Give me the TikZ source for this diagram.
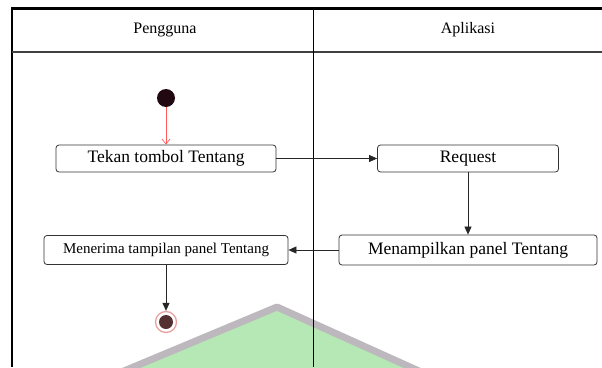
\documentclass[tikz,border=0pt]{standalone}
\usepackage{fontspec}
\setmainfont{Liberation Serif}
\usetikzlibrary{arrows.meta}
\definecolor{startc}{HTML}{220810}
\definecolor{endc}{HTML}{553033}
\definecolor{ringc}{HTML}{E8A0A0}
\definecolor{wmgreen}{HTML}{B5E8B5}
\definecolor{wmgray}{HTML}{BDB8BD}
\begin{document}
\begin{tikzpicture}[x=1pt,y=-1pt,
  act/.style={draw=black!80, line width=0.8pt, rounded corners=3pt, fill=white,
    inner sep=0pt, minimum height=27pt},
  flow/.style={draw=black!85, line width=0.7pt, -{Triangle[length=8pt,width=7pt]}},
  lanehead/.style={font=\fontsize{16}{18}\selectfont},
  acttext/.style={font=\fontsize{17.5}{20}\selectfont}
]
\useasboundingbox (0,0) rectangle (602,367);
% watermark
\begin{scope}
  \clip (0,0) rectangle (602,367);
  \draw[wmgray, line width=7pt, line join=round, fill=wmgreen] (112,376) -- (277,307) -- (430,376);
\end{scope}
% swimlane frame
\draw[line width=3pt] (12,8) -- (602,8);
\draw[line width=2pt] (12,6.5) -- (12,367);
\draw[line width=2pt, black!75] (12,52) -- (602,52);
\draw[line width=0.9pt] (313,8) -- (313,367);
\node[lanehead] (h1) at (165,30) {Pengguna};
\node[lanehead] (h2) at (468,30) {Aplikasi};
% nodes
\node[circle, fill=startc, minimum size=18pt, inner sep=0pt] (start) at (166,98) {};
\node[act, acttext, minimum width=220pt] (a1) at (166,158.5) {Tekan tombol Tentang};
\node[act, acttext, minimum width=181pt] (a2) at (468,158.5) {Request};
\node[act, acttext, minimum width=258pt, minimum height=30pt] (a3) at (468,250) {Menampilkan panel Tentang};
\node[act, font=\fontsize{15}{18}\selectfont, minimum width=244pt, minimum height=29pt] (a4) at (166,250) {Menerima tampilan panel Tentang};
\node[circle, draw=ringc, line width=1.3pt, fill=white, minimum size=21pt, inner sep=0pt] (end) at (166,322) {};
\fill[endc] (end.center) circle (7pt);
% connectors
\draw[red!65, line width=0.7pt, -{Straight Barb[length=5pt,width=8pt]}] (start) -- (a1);
\draw[flow] (a1) -- (a2);
\draw[flow] (a2) -- (a3);
\draw[flow] (a3) -- (a4);
\draw[flow] (a4) -- (end);
\end{tikzpicture}
\end{document}
